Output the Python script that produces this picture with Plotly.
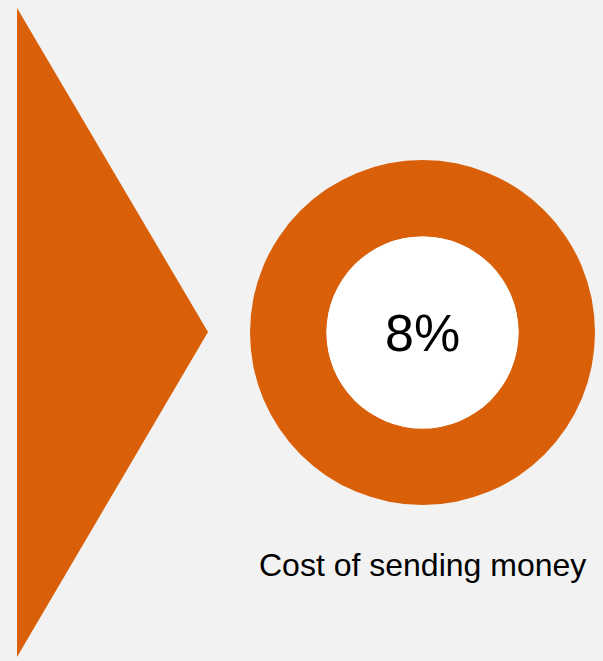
import plotly.graph_objects as go

# Data
metric_label = "Cost of sending money"
metric_value = 8  # percent
ring_values = [100]

# Decorative triangle outline (in pixel-like axis units)
tri_x = [17, 208, 17, 17]
tri_y = [8, 332, 657, 8]

ORANGE = "#D96008"
BG = "#F2F2F2"
W, H = 603, 661

fig = go.Figure()

fig.add_trace(go.Scatter(
    x=tri_x, y=tri_y, mode="lines", fill="toself",
    fillcolor=ORANGE, line=dict(width=0, color=ORANGE),
    hoverinfo="skip", showlegend=False,
))

cx, cy, r_out, r_in = 422.5, 332.5, 172.5, 96
fig.add_trace(go.Pie(
    values=ring_values,
    marker=dict(colors=[ORANGE], line=dict(width=0)),
    hole=r_in / r_out,
    textinfo="none",
    sort=False,
    showlegend=False,
    domain=dict(x=[(cx - r_out) / W, (cx + r_out) / W],
                y=[(H - cy - r_out) / H, (H - cy + r_out) / H]),
))

fig.add_shape(type="circle", xref="x", yref="y",
              x0=cx - r_in, x1=cx + r_in, y0=cy - r_in, y1=cy + r_in,
              fillcolor="white", line=dict(width=0), layer="above")

fig.add_annotation(x=cx, y=cy, xref="x", yref="y",
                   text=f"{metric_value}%", showarrow=False,
                   font=dict(family="Liberation Sans, Arial", size=52, color="black"),
                   xanchor="center", yanchor="middle")

fig.add_annotation(x=cx, y=565, xref="x", yref="y",
                   text=metric_label, showarrow=False,
                   font=dict(family="Liberation Sans, Arial", size=32, color="black"),
                   xanchor="center", yanchor="middle")

fig.update_layout(
    width=W, height=H,
    margin=dict(l=0, r=0, t=0, b=0),
    paper_bgcolor=BG, plot_bgcolor=BG,
    xaxis=dict(range=[0, W], visible=False, fixedrange=True),
    yaxis=dict(range=[H, 0], visible=False, fixedrange=True),
    showlegend=False,
)

fig.write_html("out.html")
